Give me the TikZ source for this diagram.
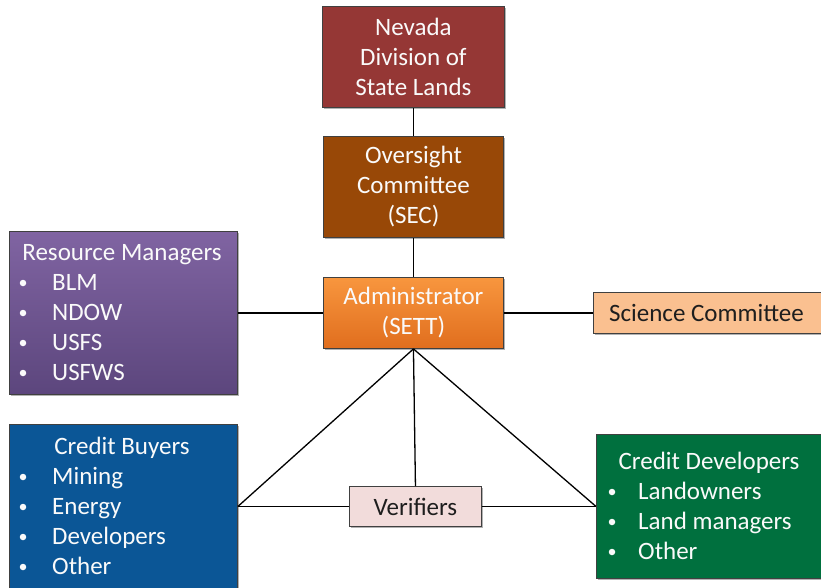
\documentclass[tikz,border=0pt]{standalone}
\usepackage{fontspec}
\setmainfont{Carlito}
\usetikzlibrary{shadows}
\definecolor{nevada}{RGB}{149,55,53}
\definecolor{oversight}{RGB}{152,72,7}
\definecolor{rmtop}{RGB}{128,100,162}
\definecolor{rmbot}{RGB}{92,70,125}
\definecolor{admtop}{RGB}{248,150,62}
\definecolor{admbot}{RGB}{224,110,30}
\definecolor{science}{RGB}{250,192,144}
\definecolor{buyers}{RGB}{11,86,150}
\definecolor{verif}{RGB}{242,220,219}
\definecolor{devel}{RGB}{0,112,62}
\definecolor{boxline}{RGB}{64,64,64}
\definecolor{txtwhite}{RGB}{250,250,250}
\definecolor{txtdark}{RGB}{30,30,30}
\begin{document}
\begin{tikzpicture}[x=1pt,y=-1pt,
  box/.style={draw=boxline, line width=0.9pt, rectangle, inner sep=0pt, anchor=north west,
    drop shadow={shadow xshift=1.5pt, shadow yshift=-1.5pt, opacity=0.3, fill=black},
    font=\fontsize{25}{30}\selectfont, align=center, text=txtwhite},
  lbl/.style={inner sep=0pt, font=\fontsize{25}{30}\selectfont, text=txtwhite},
  bul/.style={circle, fill=txtwhite, inner sep=0pt, minimum size=6.5pt},
  conn/.style={draw=black, line width=1.3pt}]
\useasboundingbox (0,0) rectangle (821,587);

% boxes
\node[box, minimum width=182pt, minimum height=101pt, fill=nevada] (nev) at (322,6) {Nevada\\Division of\\State Lands};
\node[box, minimum width=180pt, minimum height=101pt, fill=oversight] (ovs) at (323,136) {Oversight\\Committee\\(SEC)};
\node[box, minimum width=180pt, minimum height=71pt, top color=admtop, bottom color=admbot] (adm) at (323,277) {Administrator\\(SETT)};
\node[box, minimum width=232pt, minimum height=41pt, fill=science, text=txtdark] (sci) at (593,292) {\hspace*{-6pt}Science Committee};
\node[box, minimum width=228pt, minimum height=163pt, top color=rmtop, bottom color=rmbot] (rm) at (9,231) {};
\node[box, minimum width=228pt, minimum height=180pt, fill=buyers] (cb) at (9,424) {};
\node[box, minimum width=230pt, minimum height=144pt, fill=devel] (cd) at (596,434) {};
\node[box, minimum width=132pt, minimum height=40pt, fill=verif, text=txtdark] (ver) at (349,486) {Verifiers};

% list texts
\node[lbl, anchor=base] (rmh) at (122,260) {Resource Managers};
\foreach \t/\y [count=\i] in {BLM/290, NDOW/320, USFS/350, USFWS/380} {
  \node[bul] (rmb\i) at (23,\y-7) {};
  \node[lbl, anchor=base west] (rmt\i) at (52,\y) {\t};
}
\node[lbl, anchor=base] (cbh) at (122,454) {Credit Buyers};
\foreach \t/\y [count=\i] in {Mining/484, Energy/514, Developers/544, Other/574} {
  \node[bul] (cbb\i) at (23,\y-7) {};
  \node[lbl, anchor=base west] (cbt\i) at (52,\y) {\t};
}
\node[lbl, anchor=base] (cdh) at (709,469) {Credit Developers};
\foreach \t/\y [count=\i] in {Landowners/499, Land managers/529, Other/559} {
  \node[bul] (cdb\i) at (612,\y-7) {};
  \node[lbl, anchor=base west] (cdt\i) at (638,\y) {\t};
}

% connectors
\coordinate (cbc) at (cb.east |- ver.west);
\coordinate (cdc) at (cd.west |- ver.west);
\draw[conn] (nev.south) -- (ovs.north);
\draw[conn] (ovs.south) -- (adm.north);
\draw[conn] (rm.east |- adm.west) -- (adm.west);
\draw[conn] (adm.east) -- (sci.west);
\draw[conn] (adm.south) -- (cbc);
\draw[conn] (adm.south) -- (cdc);
\draw[conn] (adm.south) -- (ver.north);
\draw[conn] (cbc) -- (ver.west);
\draw[conn] (ver.east) -- (cdc);
\end{tikzpicture}
\end{document}
